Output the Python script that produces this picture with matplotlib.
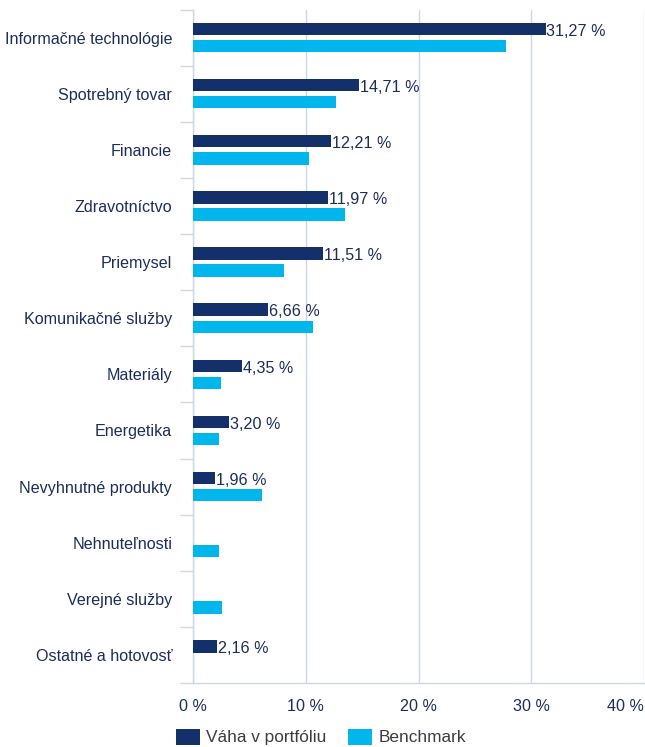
import matplotlib
matplotlib.use("Agg")
import matplotlib.pyplot as plt
import numpy as np

categories = ["Informačné technológie", "Spotrebný tovar", "Financie", "Zdravotníctvo",
              "Priemysel", "Komunikačné služby", "Materiály", "Energetika",
              "Nevyhnutné produkty", "Nehnuteľnosti", "Verejné služby", "Ostatné a hotovosť"]
portfolio = [31.27, 14.71, 12.21, 11.97, 11.51, 6.66, 4.35, 3.20, 1.96, 0.0, 0.0, 2.16]
benchmark = [27.8, 12.7, 10.3, 13.5, 8.05, 10.6, 2.45, 2.35, 6.15, 2.35, 2.6, 0.0]
xticks = [0, 10, 20, 30, 40]
xtick_labels = ["0 %", "10 %", "20 %", "30 %", "40 %"]
series_names = ["Váha v portfóliu", "Benchmark"]

DARK = "#13306B"
LIGHT = "#00B6EC"
TEXT = "#1C2D5A"
LEGTEXT = "#3A3D45"
GRID = "#CCD6E8"
FS = 11.6
LFS = 12.4

plt.rcParams['font.family'] = ['Liberation Sans', 'DejaVu Sans']

W, H = 645, 747
fig = plt.figure(figsize=(W / 100, H / 100), dpi=100)
top_px = 9.5
ax = fig.add_axes([193 / W, (H - 683) / H, (644 - 193) / W, (683 - top_px) / H])

y = np.arange(len(categories))
off = 0.152
bh = 0.22
ax.barh(y - off, portfolio, height=bh, color=DARK, label=series_names[0], zorder=3)
ax.barh(y + off, benchmark, height=bh, color=LIGHT, label=series_names[1], zorder=3)

for yi, v in zip(y, portfolio):
    if v > 0:
        ax.text(v + 0.08, yi - off + 0.04, f"{v:.2f} %".replace(".", ","),
                va="center", ha="left", fontsize=FS, color=TEXT, zorder=4)

ax.set_xlim(0, 40)
ax.set_ylim(len(categories) - 0.5, -0.5)

ax.set_xticks(xticks)
ax.set_xticklabels(xtick_labels)
ax.tick_params(axis="x", length=0, pad=11.5, labelsize=FS, labelcolor=TEXT)
labs = ax.get_xticklabels()
labs[-1].set_horizontalalignment("right")

ax.set_yticks(np.arange(-0.5, len(categories), 1.0))
ax.set_yticklabels([])
ax.tick_params(axis="y", which="major", length=9.4, width=1, color=GRID)
ax.set_yticks(y, minor=True)
ax.set_yticklabels(categories, minor=True)
ax.tick_params(axis="y", which="minor", length=0, pad=15, labelsize=FS, labelcolor=TEXT)

ax.grid(axis="x", color=GRID, linewidth=1, zorder=0)
for s in ["top", "right"]:
    ax.spines[s].set_visible(False)
for s in ["left", "bottom"]:
    ax.spines[s].set_color(GRID)
    ax.spines[s].set_linewidth(1)

leg = fig.legend(loc="center", bbox_to_anchor=(321 / W, 1 - 737 / H), ncol=2, frameon=False,
                 fontsize=LFS, handlelength=1.4, handleheight=1.05, handletextpad=0.35,
                 columnspacing=1.25, borderaxespad=0)
for t in leg.get_texts():
    t.set_color(LEGTEXT)

fig.savefig("out.png", dpi=100)
